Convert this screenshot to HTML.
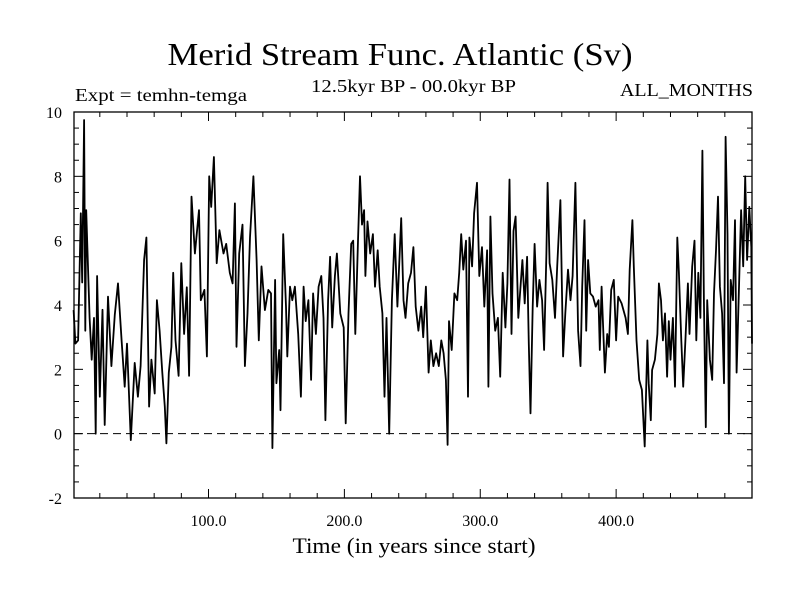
<!DOCTYPE html>
<html><head><meta charset="utf-8"><style>
html,body{margin:0;padding:0;background:#fff;}
svg{display:block;font-family:"Liberation Serif",serif;}
</style></head><body>
<svg id="chart" width="800" height="600" viewBox="0 0 800 600" xmlns="http://www.w3.org/2000/svg">
<text x="400" y="65" font-size="32" text-anchor="middle" textLength="465" lengthAdjust="spacingAndGlyphs">Merid Stream Func. Atlantic (Sv)</text>
<text x="75" y="101" font-size="18" textLength="172" lengthAdjust="spacingAndGlyphs">Expt = temhn-temga</text>
<text x="311" y="92" font-size="18" textLength="205" lengthAdjust="spacingAndGlyphs">12.5kyr BP - 00.0kyr BP</text>
<text x="753" y="96" font-size="18" text-anchor="end" textLength="133" lengthAdjust="spacingAndGlyphs">ALL_MONTHS</text>
<text x="414" y="553" font-size="22" text-anchor="middle" textLength="243" lengthAdjust="spacingAndGlyphs">Time (in years since start)</text>
<g id="g"></g>
</svg>
<script>
const years = [0.7,2,4,6,7,8.4,9.3,10,12.5,14,15.7,17,18,20,22,23.6,26,28.5,31,33.4,36,38.3,40,42.8,45.7,48,50,52.6,54.3,56.3,58,60.4,62,64,66,67.8,69,70.8,72.7,74,75.7,78,80,82,84,85.7,87.5,90,93,94.3,97,98.8,100.5,102,104,106,108,111,113,115.7,117.7,119.4,120.6,122.6,125,126.8,128.7,130.5,133,135.4,137,139,141.5,144,146,147,149,150,152,153,155,157,158,160,161.7,163.6,166,168,170,171.5,173.5,175.5,177,179,181,183,184.6,186,188,189.5,191,193,194.5,197,199.5,201,203,205,206.5,208,210,211.5,213,214.5,215.5,217,219,221,222.5,224.5,226,228,229.5,231,233,235,237,239,241.8,243.5,245,247,249,250.8,252.5,254.5,256.5,258,260,262,263.6,265.5,267.5,269.5,271.3,273,274.7,276,277,279,281,283,284.5,286,287.5,289.5,291,292,294,295.5,297.6,299.3,301.3,303,305,306,307.5,309,311,313,314.7,316.5,318.5,320,321.5,323,324.5,326,328,331,332.7,334.5,335.7,337,338.6,340,341.8,343.5,345.5,347,348.7,349.6,351,353,355,356.6,359,361,362.6,364.6,366.4,368,370,372,373.8,375,376.7,378,379.4,381,383,385,387,388,389.3,390.3,391.7,393.4,394.7,396.4,398.3,400,401.5,404,407,408.7,410,412,413,415,417,419,421,423,424,425.5,426.5,428.5,430.4,431.5,433,434.4,436,437.5,438.8,440,441.8,443.3,445,446.2,448,449.4,451,452.8,454,456,457.7,459,460.5,462,463.5,464.6,466,467,469,470.7,472,473.5,475,476.4,478,479.4,480.6,482,483,484.3,486,487.5,488.7,490.4,492,493.5,495,496.4,498,499.5,500];
const values = [3.84,2.8,2.9,6.85,4.7,9.75,3.2,6.95,3.6,2.3,3.6,0,4.9,1.15,3.85,0.27,4.26,2.1,3.7,4.67,2.9,1.46,2.8,-0.2,2.2,1.15,2.1,5.4,6.1,0.84,2.3,1.25,4.15,3.2,1.9,0.84,-0.3,1.9,2.7,5.0,2.9,1.8,5.3,3.1,4.55,1.8,7.37,5.6,6.95,4.15,4.47,2.4,8.0,7.05,8.6,5.3,6.33,5.6,5.9,5.0,4.67,7.16,2.7,5.6,6.5,2.1,3.74,6.1,8.0,5.4,2.9,5.2,3.84,4.47,4.36,-0.45,4.78,1.57,2.6,0.73,6.2,3.95,2.4,4.57,4.15,4.57,3.1,1.15,4.57,3.5,4.15,1.67,4.36,3.1,4.57,4.9,3.6,0.42,4.15,5.5,3.3,4.9,5.6,3.74,3.3,0.32,3.74,5.9,6.0,3.1,6.0,8.0,6.5,6.95,4.9,6.6,5.6,6.2,4.57,5.7,4.57,3.74,1.15,3.6,0.0,4.15,6.2,3.95,6.7,4.15,3.6,4.67,5.0,5.8,3.95,3.2,3.95,3.0,4.57,1.9,2.9,2.1,2.5,2.1,2.9,2.5,1.67,-0.35,3.5,2.6,4.36,4.15,5.0,6.2,5.1,6.0,1.15,6.1,5.2,6.85,7.8,4.9,5.8,3.95,5.7,1.46,6.75,4.36,3.2,3.6,1.77,5.0,3.3,4.67,7.9,3.1,6.3,6.75,3.6,5.4,4.05,5.5,2.8,0.63,3.95,5.9,3.95,4.78,4.15,2.6,5.6,7.8,5.3,4.78,3.6,5.2,7.26,2.4,3.74,5.1,4.15,4.9,7.8,3.2,2.1,4.57,6.64,3.2,5.4,4.36,4.26,3.95,4.15,2.6,4.57,3.5,1.9,3.1,2.7,4.47,4.78,2.9,4.26,4.05,3.6,3.1,5.1,6.64,5.2,2.9,1.67,1.36,-0.4,2.9,1.57,0.42,1.98,2.3,3.1,4.67,4.15,2.9,3.74,1.77,3.5,2.3,3.6,1.46,6.1,5.0,2.9,1.46,2.9,4.67,3.1,5.2,6.0,2.9,5.0,3.6,8.8,4.15,0.2,4.15,2.3,1.67,4.36,5.7,7.37,4.57,3.74,1.57,9.23,6.2,0.0,4.78,4.15,6.64,1.9,4.57,6.95,5.2,8.0,5.4,7.05,5.8,2.8];
const xTickValues = [100,200,300,400];
const xTickLabels = ["100.0","200.0","300.0","400.0"];
const yTickValues = [-2,0,2,4,6,8,10];
const yTickLabels = ["-2","0","2","4","6","8","10"];

const L=74,R=752,T=112,B=498,X0=1,X1=500,Y0=-2,Y1=10;
const xs=t=>L+(t-X0)/(X1-X0)*(R-L);
const ys=v=>B-(v-Y0)/(Y1-Y0)*(B-T);
const NS='http://www.w3.org/2000/svg';
const g=document.getElementById('g');
function mk(tag,attrs,parent){const e=document.createElementNS(NS,tag);for(const k in attrs)e.setAttribute(k,attrs[k]);(parent||g).appendChild(e);return e;}

// frame
const frame=mk('rect',{x:L,y:T,width:R-L,height:B-T,fill:'none',stroke:'#000','stroke-width':1.3});


// zero line
const z=mk('line',{x1:L,x2:R,y1:ys(0),y2:ys(0),stroke:'#000','stroke-width':1,'stroke-dasharray':'8,5'});


// x ticks
for(let t=20;t<X1;t+=20){
  const major=t%100===0, len=major?9:5, x=xs(t);
  const a=mk('line',{x1:x,x2:x,y1:B,y2:B-len,stroke:'#000','stroke-width':1});
  
  
  const b=mk('line',{x1:x,x2:x,y1:T,y2:T+len,stroke:'#000','stroke-width':1});
  
  
}
xTickValues.forEach((v,i)=>{
  const tx=mk('text',{x:xs(v),y:526,'font-size':16,'text-anchor':'middle'});
  tx.textContent=xTickLabels[i];
  
  
});
// y ticks
for(let v=Y0+0.5;v<Y1;v+=0.5){
  const major=Math.abs(v%2)<1e-9, len=major?9:5, y=ys(v);
  const a=mk('line',{x1:L,x2:L+len,y1:y,y2:y,stroke:'#000','stroke-width':1});
  
  
  const b=mk('line',{x1:R,x2:R-len,y1:y,y2:y,stroke:'#000','stroke-width':1});
  
  
}
yTickValues.forEach((v,i)=>{
  const tx=mk('text',{x:62,y:ys(v)+6,'font-size':16,'text-anchor':'end'});
  tx.textContent=yTickLabels[i];
  
  
});
// series
const d=years.map((t,i)=>(i?'L':'M')+xs(t).toFixed(1)+','+ys(values[i]).toFixed(1)).join('');
const p=mk('path',{d:d,fill:'none',stroke:'#000','stroke-width':1.8,'stroke-linejoin':'round'});


</script>
</body></html>
